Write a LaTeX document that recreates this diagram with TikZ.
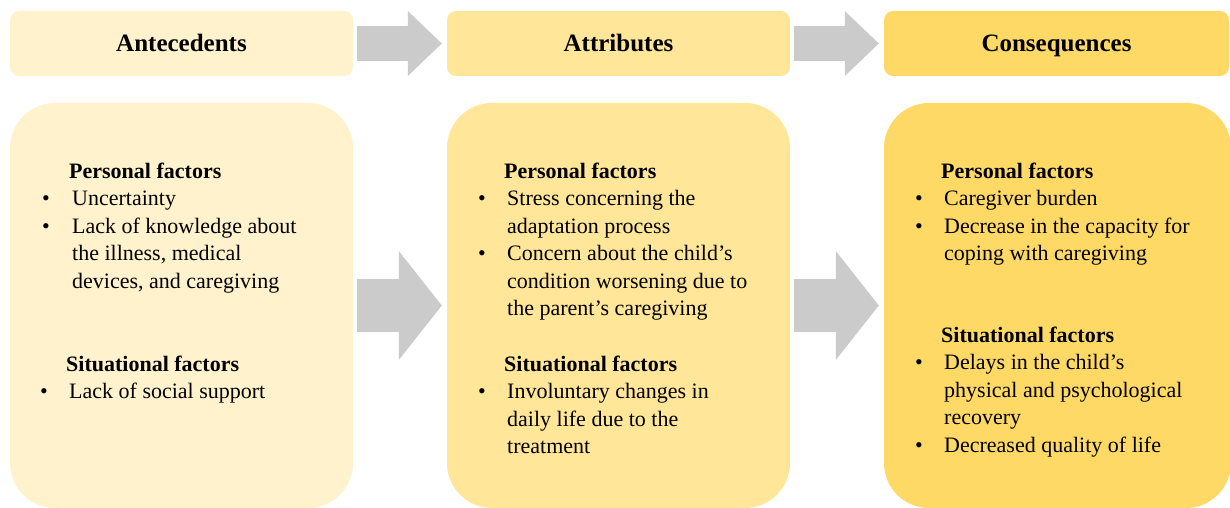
\documentclass[tikz,border=0pt]{standalone}
\usepackage{fontspec}
\setmainfont{Liberation Serif}
\usepackage{tikz}
\usetikzlibrary{arrows.meta}

\definecolor{antefill}{HTML}{FFF2CC}
\definecolor{attrfill}{HTML}{FFE699}
\definecolor{consfill}{HTML}{FFD966}
\definecolor{flowgray}{HTML}{CBCBCB}

\newcommand{\itm}{\textbullet &}
\newcommand{\hdr}[1]{& \hspace*{-3pt}\textbf{#1}}

\begin{document}
\begin{tikzpicture}[x=1pt,y=-1pt]

  \tikzstyle{head}=[rectangle,rounded corners=9pt,inner sep=0pt,
    minimum height=65pt,text height=22pt,text depth=5pt,
    font=\fontsize{25}{30}\selectfont\bfseries]
  \tikzstyle{panel}=[rectangle,rounded corners=45pt,inner sep=0pt,
    minimum height=405pt]
  \tikzstyle{items}=[anchor=base west,inner sep=0pt,
    font=\fontsize{22}{27.5}\selectfont]

  %% \draw [help lines] (0,0) grid [step=50] (1230,508);
  \useasboundingbox (0,0) rectangle (1230,508);

  \node  (ante)  at (181.5,43.5)   [head,fill=antefill,minimum width=343pt]  {Antecedents};
  \node  (attr)  at (618.5,43.5)   [head,fill=attrfill,minimum width=343pt]  {Attributes};
  \node  (cons)  at (1056.5,43.5)  [head,fill=consfill,minimum width=345pt]  {Consequences};

  \node  (anteb) at (181.5,305.5)  [panel,fill=antefill,minimum width=343pt] {};
  \node  (attrb) at (618.5,305.5)  [panel,fill=attrfill,minimum width=343pt] {};
  \node  (consb) at (1057.5,305.5) [panel,fill=consfill,minimum width=347pt] {};

  %% antecedents
  \node (antep) at (42,178) [items] {\begin{tabular}[t]{@{}p{30pt}@{}l@{}}
    \hdr{Personal factors}\\
    \itm Uncertainty\\
    \itm Lack of knowledge about\\
    & the illness, medical\\
    & devices, and caregiving
  \end{tabular}};
  \node (antes) at (40,371) [items] {\begin{tabular}[t]{@{}p{29pt}@{}l@{}}
    \hdr{Situational factors}\\
    \itm Lack of social support
  \end{tabular}};

  %% attributes
  \node (attrp) at (478,178) [items] {\begin{tabular}[t]{@{}p{29pt}@{}l@{}}
    \hdr{Personal factors}\\
    \itm Stress concerning the\\
    & adaptation process\\
    \itm Concern about the child's\\
    & condition worsening due to\\
    & the parent's caregiving
  \end{tabular}};
  \node (attrs) at (478,371) [items] {\begin{tabular}[t]{@{}p{29pt}@{}l@{}}
    \hdr{Situational factors}\\
    \itm Involuntary changes in\\
    & daily life due to the\\
    & treatment
  \end{tabular}};

  %% consequences
  \node (consp) at (915,178) [items] {\begin{tabular}[t]{@{}p{29pt}@{}l@{}}
    \hdr{Personal factors}\\
    \itm Caregiver burden\\
    \itm Decrease in the capacity for\\
    & coping with caregiving
  \end{tabular}};
  \node (conss) at (915,342) [items] {\begin{tabular}[t]{@{}p{29pt}@{}l@{}}
    \hdr{Situational factors}\\
    \itm Delays in the child's\\
    & physical and psychological\\
    & recovery\\
    \itm Decreased quality of life
  \end{tabular}};

  \tikzstyle{flow}=[draw=flowgray,shorten <=4pt,shorten >=5pt]
  \tikzstyle{smallflow}=[flow,line width=35pt,
    -{Triangle[length=34pt,width=65pt,line width=0pt]}]
  \tikzstyle{bigflow}=[flow,line width=53pt,
    -{Triangle[length=43pt,width=109pt,line width=0pt]}]

  \path (ante)  edge [smallflow] (attr)
        (attr)  edge [smallflow] (cons)
        (anteb) edge [bigflow]   (attrb)
        (attrb) edge [bigflow]   (consb);
\end{tikzpicture}
\end{document}
